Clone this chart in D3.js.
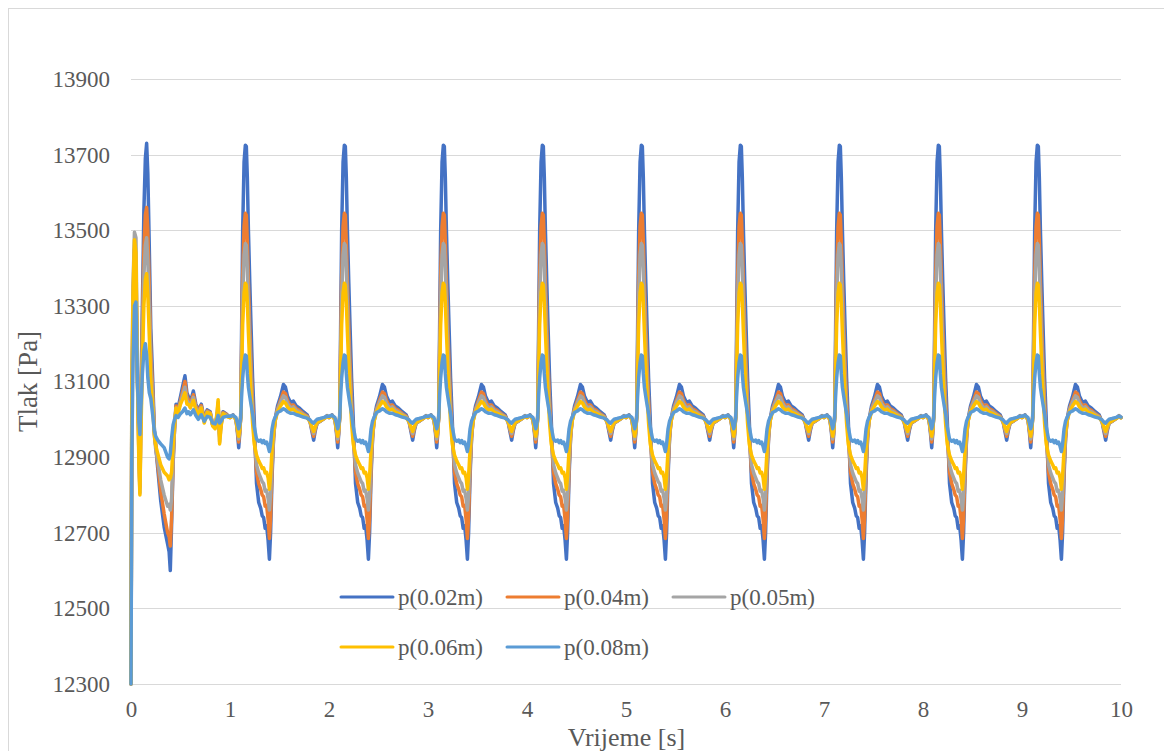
<!DOCTYPE html>
<html>
<head>
<meta charset="utf-8">
<script src="https://cdn.jsdelivr.net/npm/d3@7"></script>
<style>
  html, body { margin: 0; padding: 0; background: #ffffff; }
  svg { display: block; }
</style>
</head>
<body>
<svg id="chart" width="1164" height="751"></svg>
<script>
// ---------------- DATA ----------------
const seriesNames = ["p(0.02m)", "p(0.04m)", "p(0.05m)", "p(0.06m)", "p(0.08m)"];
const seriesColors = ["#4472C4", "#ED7D31", "#A5A5A5", "#FFC000", "#5B9BD5"];

const xTicks = [0, 1, 2, 3, 4, 5, 6, 7, 8, 9, 10];
const yTicks = [12300, 12500, 12700, 12900, 13100, 13300, 13500, 13700, 13900];

// start-up transient, 0 .. 1 s
const startTimes = [0, 0.008, 0.02, 0.035, 0.05, 0.065, 0.08, 0.09, 0.10, 0.115, 0.13, 0.145, 0.158, 0.17, 0.185, 0.20, 0.22, 0.235, 0.25, 0.27, 0.30, 0.335, 0.37, 0.385, 0.397, 0.41, 0.425, 0.44, 0.455, 0.475, 0.50, 0.52, 0.545, 0.565, 0.58, 0.60, 0.63, 0.655, 0.68, 0.71, 0.74, 0.77, 0.80, 0.825, 0.85, 0.87, 0.88, 0.895, 0.91, 0.93, 0.96, 0.98];
const startP002 = [12300, 13000, 13250, 13400, 13350, 13100, 12950, 12900, 13050, 13300, 13550, 13690, 13730, 13650, 13450, 13240, 13100, 12980, 12930, 12870, 12785, 12715, 12670, 12650, 12600, 12720, 12880, 12980, 13040, 13030, 13060, 13085, 13115, 13070, 13060, 13045, 13075, 13040, 13025, 13040, 13000, 13025, 13020, 12985, 12980, 13010, 13030, 12960, 12990, 13020, 13015, 13010];
const startP004 = [12300, 13000, 13300, 13450, 13400, 13120, 12900, 12820, 13000, 13250, 13450, 13540, 13560, 13500, 13350, 13180, 13070, 12970, 12930, 12880, 12810, 12750, 12700, 12690, 12665, 12740, 12890, 12975, 13035, 13025, 13050, 13072, 13100, 13060, 13052, 13040, 13065, 13035, 13022, 13036, 13000, 13022, 13018, 12985, 12982, 13010, 13035, 12955, 12988, 13018, 13014, 13009];
const startP005 = [12300, 13050, 13350, 13495, 13480, 13150, 12900, 12805, 12980, 13200, 13380, 13460, 13480, 13420, 13290, 13140, 13050, 12960, 12920, 12890, 12840, 12800, 12770, 12775, 12760, 12790, 12900, 12975, 13030, 13020, 13045, 13062, 13085, 13050, 13045, 13035, 13058, 13030, 13018, 13032, 12995, 13020, 13016, 12985, 12980, 13015, 13045, 12940, 12985, 13016, 13012, 13008];
const startP006 = [12300, 13050, 13330, 13475, 13440, 13100, 12880, 12800, 12960, 13150, 13300, 13370, 13385, 13330, 13220, 13100, 13030, 12960, 12930, 12910, 12880, 12860, 12850, 12840, 12845, 12860, 12930, 12985, 13030, 13015, 13040, 13052, 13070, 13040, 13040, 13030, 13050, 13025, 13012, 13030, 12990, 13018, 13015, 12982, 12975, 13020, 13052, 12935, 12982, 13015, 13010, 13006];
const startP008 = [12300, 12900, 13150, 13300, 13310, 13100, 12990, 12960, 13030, 13120, 13180, 13200, 13170, 13110, 13070, 13055, 13010, 12970, 12955, 12945, 12935, 12925, 12900, 12895, 12910, 12950, 12985, 13000, 13010, 13005, 13015, 13020, 13030, 13015, 13020, 13012, 13025, 13010, 13000, 13012, 12995, 13008, 13005, 12990, 12988, 13000, 13010, 12990, 12995, 13005, 13008, 13008];

// one heart-beat-like cycle (phase within each second), repeated from 1 s to 10 s
const cycleStarts = [1, 2, 3, 4, 5, 6, 7, 8, 9];
const cyclePhase = [0.00, 0.03, 0.06, 0.075, 0.088, 0.098, 0.108, 0.117, 0.128, 0.142, 0.155, 0.165, 0.175, 0.186, 0.20, 0.212, 0.228, 0.245, 0.268, 0.29, 0.31, 0.325, 0.34, 0.355, 0.37, 0.385, 0.398, 0.41, 0.425, 0.44, 0.455, 0.48, 0.51, 0.54, 0.56, 0.58, 0.61, 0.64, 0.67, 0.70, 0.74, 0.78, 0.81, 0.83, 0.845, 0.86, 0.88, 0.91, 0.95, 0.98];
const cycleP002 = [13005, 13012, 13000, 12965, 12925, 12960, 13010, 13230, 13500, 13680, 13725, 13722, 13640, 13500, 13360, 13250, 13110, 13000, 12830, 12780, 12765, 12745, 12740, 12712, 12718, 12680, 12630, 12700, 12850, 12950, 13000, 13035, 13060, 13092, 13085, 13062, 13045, 13048, 13035, 13030, 13020, 13012, 12992, 12965, 12945, 12968, 12990, 12995, 13002, 13010];
const cycleP004 = [13005, 13010, 13000, 12970, 12940, 12965, 13005, 13180, 13380, 13510, 13545, 13540, 13470, 13360, 13240, 13150, 13050, 12960, 12860, 12830, 12815, 12800, 12795, 12770, 12772, 12735, 12685, 12740, 12870, 12950, 12995, 13028, 13050, 13072, 13068, 13050, 13035, 13038, 13028, 13024, 13015, 13008, 12993, 12970, 12955, 12973, 12990, 12995, 13002, 13008];
const cycleP005 = [13005, 13010, 13000, 12972, 12948, 12968, 13005, 13150, 13320, 13435, 13465, 13460, 13400, 13300, 13190, 13110, 13020, 12950, 12880, 12858, 12845, 12835, 12830, 12810, 12812, 12790, 12760, 12800, 12890, 12955, 12995, 13025, 13045, 13062, 13058, 13043, 13030, 13033, 13024, 13020, 13013, 13006, 12993, 12973, 12962, 12976, 12990, 12995, 13002, 13008];
const cycleP006 = [13005, 13010, 13000, 12975, 12955, 12972, 13005, 13120, 13250, 13335, 13360, 13355, 13310, 13230, 13140, 13070, 12990, 12935, 12905, 12890, 12880, 12870, 12872, 12858, 12860, 12845, 12815, 12850, 12920, 12965, 12995, 13020, 13035, 13047, 13043, 13033, 13024, 13027, 13019, 13016, 13010, 13004, 12994, 12978, 12968, 12980, 12992, 12996, 13002, 13008];
const cycleP008 = [13008, 13010, 13005, 12990, 12975, 12985, 13005, 13060, 13110, 13150, 13170, 13168, 13120, 13085, 13060, 13040, 13015, 12980, 12948, 12942, 12945, 12938, 12944, 12936, 12940, 12928, 12915, 12935, 12975, 12995, 13005, 13018, 13022, 13028, 13025, 13020, 13016, 13016, 13012, 13010, 13006, 13003, 12998, 12992, 12990, 12995, 13000, 13002, 13005, 13008];

// last sample at 10 s
const endTime = 10;
const endValues = [13005, 13005, 13004, 13004, 13006];

// ---------------- BUILD ----------------
const startSets = [startP002, startP004, startP005, startP006, startP008];
const cycleSets = [cycleP002, cycleP004, cycleP005, cycleP006, cycleP008];

const series = seriesNames.map((name, s) => {
  const pts = startTimes.map((t, i) => [t, startSets[s][i]]);
  cycleStarts.forEach(k => {
    cyclePhase.forEach((p, i) => pts.push([k + p, cycleSets[s][i]]));
  });
  pts.push([endTime, endValues[s]]);
  return { name, color: seriesColors[s], pts };
});

// ---------------- DRAW ----------------
const FONT = "'Liberation Serif', 'DejaVu Serif', 'Noto Serif', serif";
const svg = d3.select("#chart");
const plot = { left: 131, right: 1121, top: 79, bottom: 684 };

const x = d3.scaleLinear().domain([0, 10]).range([plot.left, plot.right]);
const y = d3.scaleLinear().domain([12300, 13900]).range([plot.bottom, plot.top]);

// outer chart border
svg.append("rect")
  .attr("x", 8.5).attr("y", 8.5)
  .attr("width", 1170).attr("height", 760)
  .attr("fill", "none").attr("stroke", "#d9d9d9").attr("stroke-width", 1);

// gridlines
svg.append("g").selectAll("line").data(yTicks).join("line")
  .attr("x1", plot.left).attr("x2", plot.right)
  .attr("y1", d => Math.round(y(d)) + 0.5).attr("y2", d => Math.round(y(d)) + 0.5)
  .attr("stroke", "#d9d9d9").attr("stroke-width", 1);

// y axis labels
const yAxis = d3.axisLeft(y).tickValues(yTicks).tickSize(0).tickPadding(21).tickFormat(d3.format("d"));
const gy = svg.append("g").attr("transform", `translate(${plot.left},0)`).call(yAxis);
gy.attr("font-family", FONT).attr("font-size", 23);
gy.select(".domain").remove();
gy.selectAll("text").attr("fill", "#595959");

// x axis labels
const xAxis = d3.axisBottom(x).tickValues(xTicks).tickSize(0).tickPadding(17).tickFormat(d3.format("d"));
const gx = svg.append("g").attr("transform", `translate(0,${plot.bottom})`).call(xAxis);
gx.attr("font-family", FONT).attr("font-size", 23);
gx.select(".domain").remove();
gx.selectAll("text").attr("fill", "#595959");

// axis titles
svg.append("text")
  .attr("x", 626.5).attr("y", 746)
  .attr("text-anchor", "middle").attr("font-size", 26)
  .attr("font-family", FONT).attr("fill", "#595959")
  .text("Vrijeme [s]");
svg.append("text")
  .attr("transform", `translate(37,${(plot.top + plot.bottom) / 2}) rotate(-90)`)
  .attr("text-anchor", "middle").attr("font-size", 27)
  .attr("font-family", FONT).attr("fill", "#595959")
  .text("Tlak [Pa]");

// series lines
const line = d3.line().x(d => x(d[0])).y(d => y(d[1]));
svg.append("g").selectAll("path").data(series).join("path")
  .attr("d", d => line(d.pts))
  .attr("fill", "none")
  .attr("stroke", d => d.color)
  .attr("stroke-width", 3.5)
  .attr("stroke-linejoin", "round")
  .attr("stroke-linecap", "round");

// legend
const legendPos = [
  { x: 341, y: 597 }, { x: 507, y: 597 }, { x: 673, y: 597 },
  { x: 341, y: 647 }, { x: 507, y: 647 }
];
const lg = svg.append("g").selectAll("g").data(series).join("g")
  .attr("transform", (d, i) => `translate(${legendPos[i].x},${legendPos[i].y})`);
lg.append("line")
  .attr("x1", 0).attr("x2", 52).attr("y1", 0).attr("y2", 0)
  .attr("stroke", d => d.color).attr("stroke-width", 3).attr("stroke-linecap", "round");
lg.append("text")
  .attr("x", 57).attr("y", 0).attr("dy", "0.35em")
  .attr("font-size", 23).attr("font-family", FONT).attr("fill", "#595959")
  .text(d => d.name);
</script>
</body>
</html>
